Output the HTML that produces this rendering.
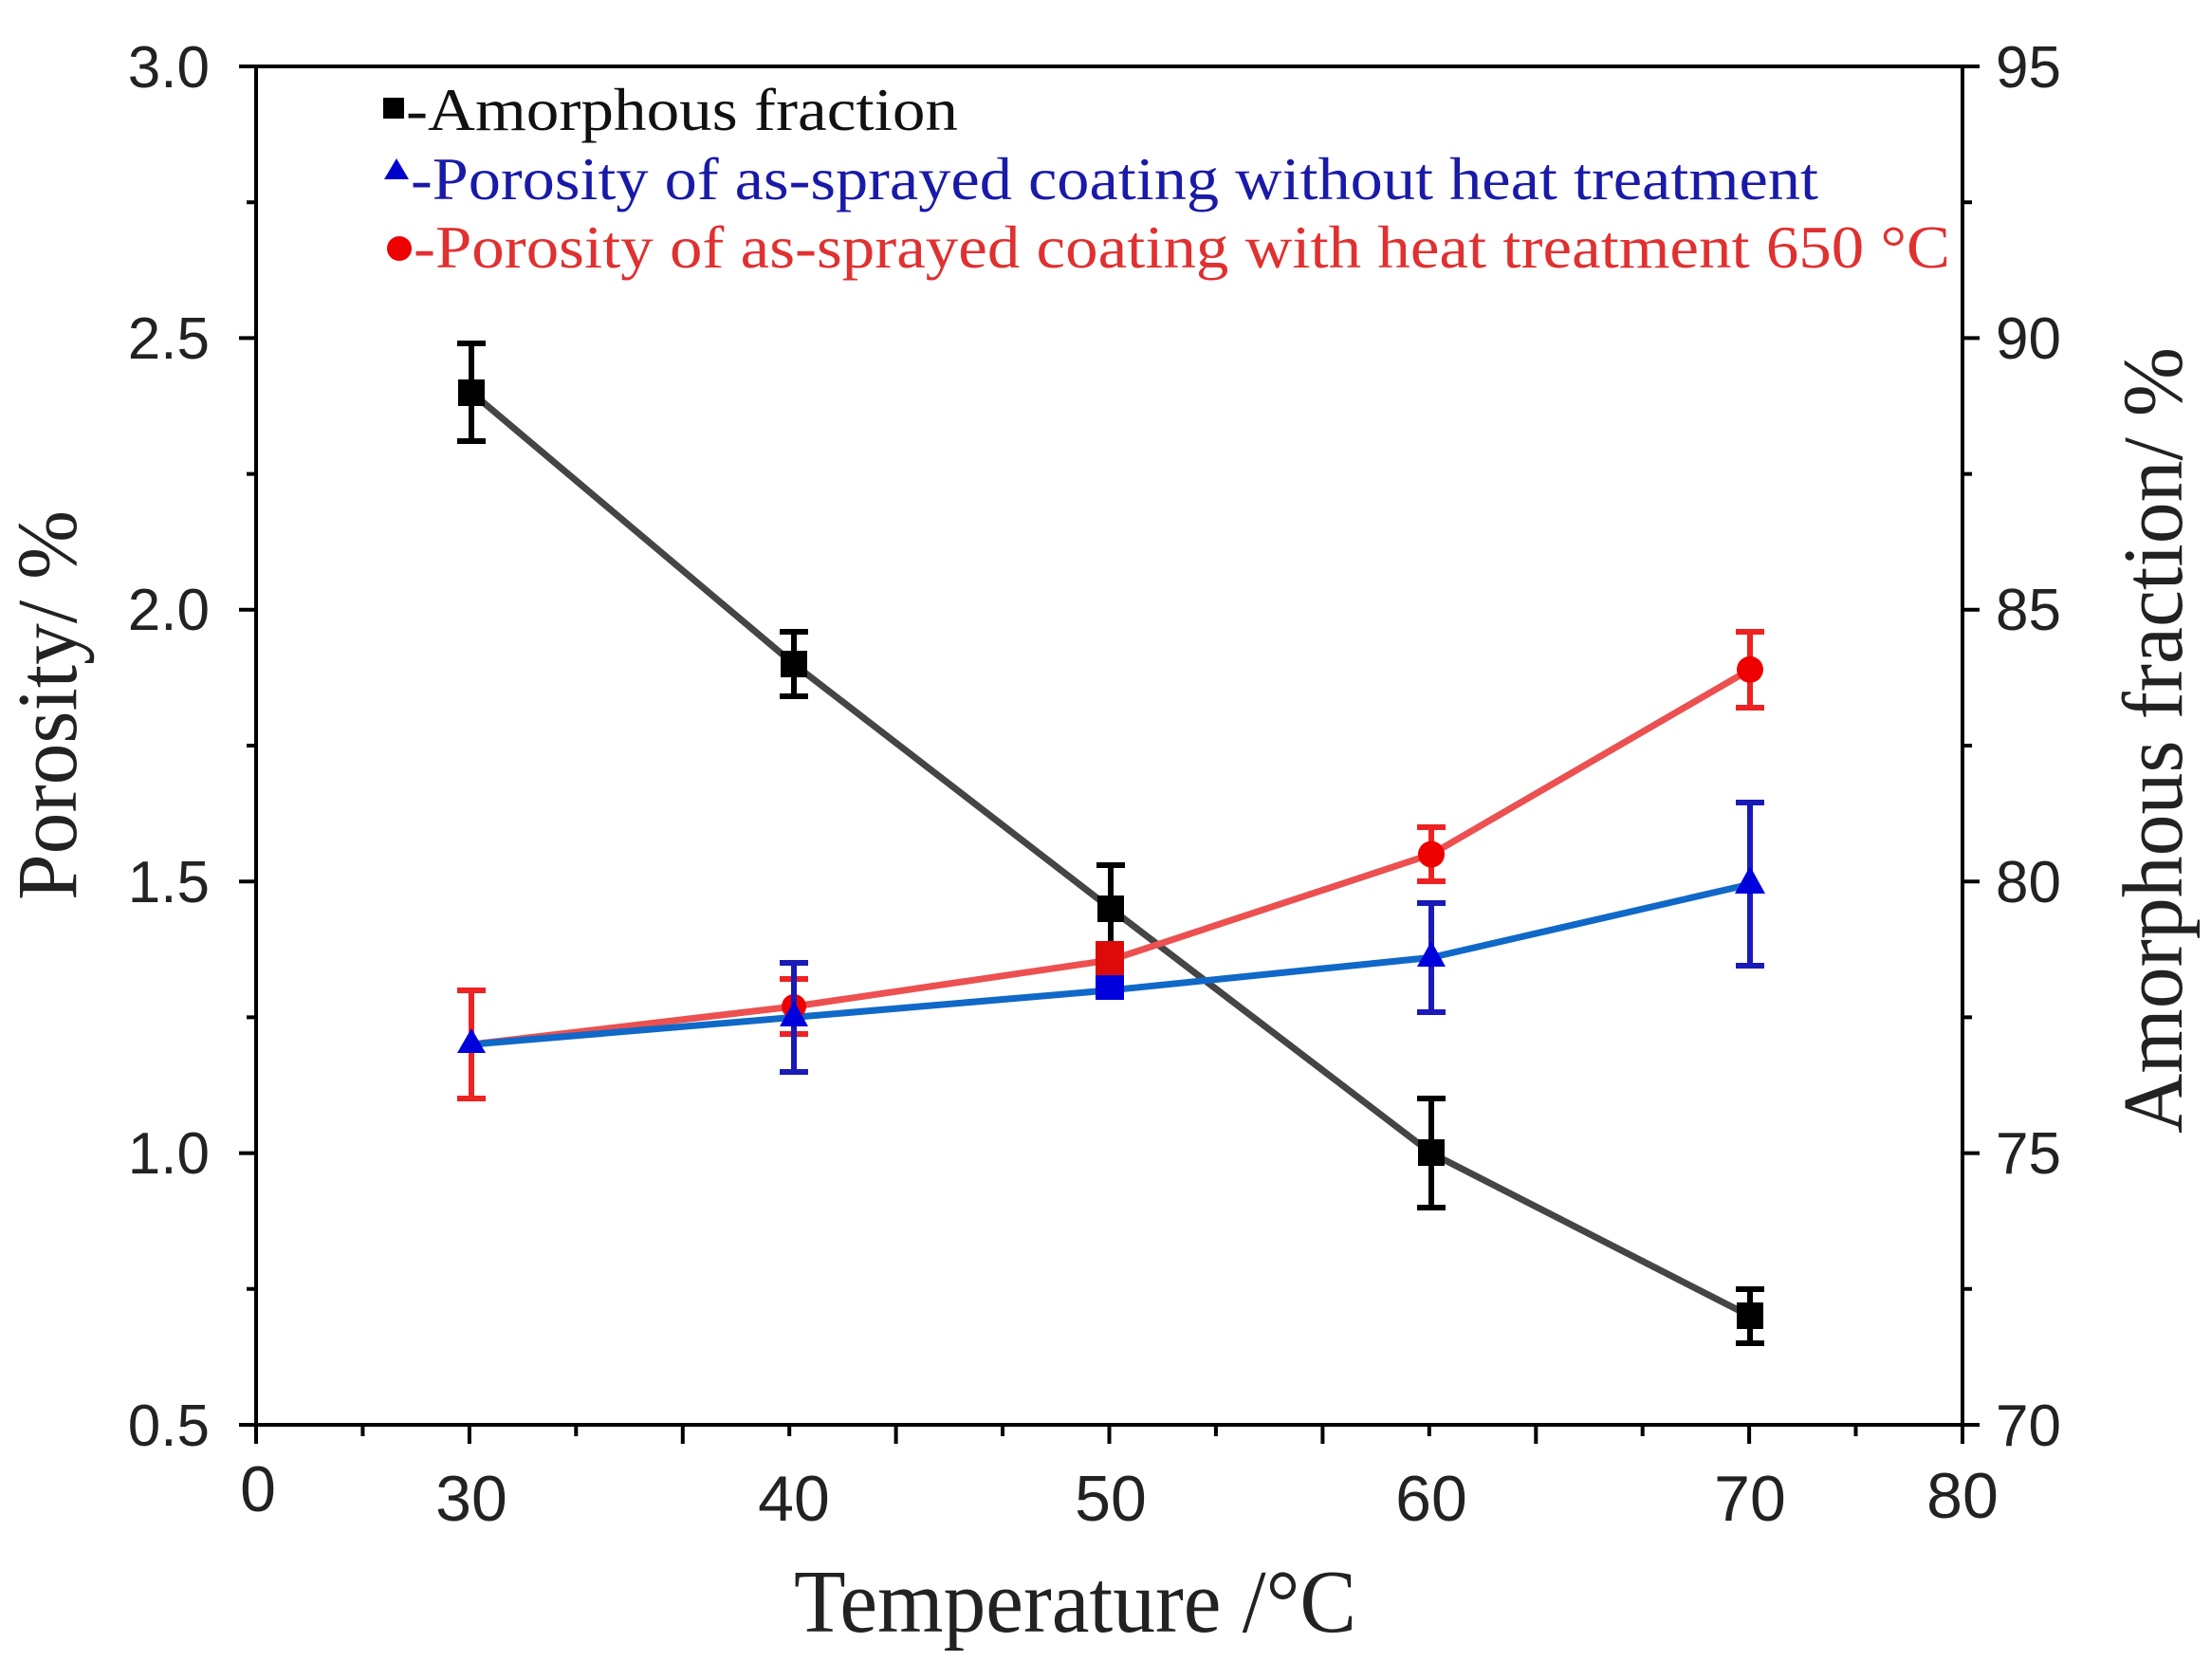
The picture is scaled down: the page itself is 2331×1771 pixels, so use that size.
<!DOCTYPE html>
<html><head><meta charset="utf-8"><style>html,body{margin:0;padding:0;background:#fff}svg{display:block}</style></head>
<body>
<svg width="2331" height="1771" viewBox="0 0 2331 1771" xmlns="http://www.w3.org/2000/svg">
<rect width="2331" height="1771" fill="#fff"/>
<g stroke="#000" stroke-width="4" fill="none">
<path d="M270 70H2069M270 70V1502H2069V70"/>
<path d="M252 70H270M252 356.4H270M252 642.8H270M252 929.2H270M252 1215.6H270M252 1502H270"/>
<path d="M260 213.2H270M260 499.6H270M260 786H270M260 1072.4H270M260 1358.8H270"/>
<path d="M2069 70H2087M2069 356.4H2087M2069 642.8H2087M2069 929.2H2087M2069 1215.6H2087M2069 1502H2087"/>
<path d="M2069 213.2H2079M2069 499.6H2079M2069 786H2079M2069 1072.4H2079M2069 1358.8H2079"/>
<path d="M270 1502V1522M494.9 1502V1522M719.8 1502V1522M944.6 1502V1522M1169.5 1502V1522M1394.4 1502V1522M1619.3 1502V1522M1844.1 1502V1522M2069 1502V1522"/>
<path d="M382.4 1502V1514M607.3 1502V1514M832.2 1502V1514M1057 1502V1514M1281.9 1502V1514M1506.8 1502V1514M1731.7 1502V1514M1956.5 1502V1514"/>
</g>
<g font-family="Liberation Sans, sans-serif" font-size="62" fill="#222">
<g text-anchor="end">
<text x="221" y="92">3.0</text><text x="221" y="378">2.5</text><text x="221" y="664">2.0</text><text x="221" y="951">1.5</text><text x="221" y="1237">1.0</text><text x="221" y="1524">0.5</text>
</g>
<text x="2104" y="92">95</text><text x="2104" y="378">90</text><text x="2104" y="664">85</text><text x="2104" y="951">80</text><text x="2104" y="1237">75</text><text x="2104" y="1524">70</text>
<g text-anchor="middle" font-size="68">
<text x="272" y="1593">0</text><text x="497" y="1603">30</text><text x="837" y="1603">40</text><text x="1171" y="1603">50</text><text x="1509" y="1603">60</text><text x="1845" y="1603">70</text><text x="2069" y="1600">80</text>
</g>
</g>
<g font-family="Liberation Serif, serif" fill="#222">
<text x="837" y="1720" font-size="94" textLength="593" lengthAdjust="spacingAndGlyphs">Temperature /°C</text>
<text transform="translate(80,949) rotate(-90)" font-size="90" textLength="411" lengthAdjust="spacingAndGlyphs">Porosity/ %</text>
<text transform="translate(2300,1195) rotate(-90)" font-size="90" textLength="829" lengthAdjust="spacingAndGlyphs">Amorphous fraction/ %</text>
</g>
<g font-family="Liberation Serif, serif" font-size="64">
<rect x="404" y="103" width="22" height="22" fill="#000"/>
<text x="428" y="137" fill="#111" textLength="582" lengthAdjust="spacingAndGlyphs">-Amorphous fraction</text>
<polygon points="418,167 405,189 431,189" fill="#0000cc"/>
<text x="433" y="210" fill="#1a1aa8" textLength="1484" lengthAdjust="spacingAndGlyphs">-Porosity of as-sprayed coating without heat treatment</text>
<circle cx="421" cy="262" r="13" fill="#ee0000"/>
<text x="436" y="282" fill="#e03030" textLength="1620" lengthAdjust="spacingAndGlyphs">-Porosity of as-sprayed coating with heat treatment 650  °C</text>
</g>
<polyline points="497,413.7 837,700.1 1171,957.8 1509,1215.6 1845,1387.4" fill="none" stroke="#454545" stroke-width="7"/>
<polyline points="497,1101 837,1061 1171,1012 1509,900.6 1845,705.8" fill="none" stroke="#ec5050" stroke-width="7"/>
<polyline points="497,1101 837,1072.4 1171,1043.8 1509,1009.4 1845,932.1" fill="none" stroke="#1068c8" stroke-width="7"/>
<g stroke="#ee2222" stroke-width="6" fill="none">
<path d="M497 1044V1158M482 1044H512M482 1158H512"/>
<path d="M837 1032V1090M822 1032H852M822 1090H852"/>
<path d="M1509 872V929M1494 872H1524M1494 929H1524"/>
<path d="M1845 666V746M1830 666H1860M1830 746H1860"/>
</g>
<g fill="#ee0000">
<circle cx="837" cy="1061" r="13"/><circle cx="1509" cy="900.6" r="14"/><circle cx="1845" cy="705.8" r="14"/>
<rect x="1155" y="992" width="30" height="36" fill="#dd0a0a"/>
</g>
<g stroke="#1a1ab8" stroke-width="6" fill="none">
<path d="M837 1015V1130M822 1015H852M822 1130H852"/>
<path d="M1509 952V1067M1494 952H1524M1494 1067H1524"/>
<path d="M1845 846V1018M1830 846H1860M1830 1018H1860"/>
</g>
<g fill="#0000dd">
<polygon points="497,1084 482,1110 512,1110"/>
<polygon points="837,1055 822,1082 852,1082"/>
<rect x="1155" y="1028" width="30" height="26"/>
<polygon points="1509,992 1494,1019 1524,1019"/>
<polygon points="1845,913 1829,942 1861,942"/>
</g>
<g stroke="#000" stroke-width="6" fill="none">
<path d="M497 362V465M482 362H512M482 465H512"/>
<path d="M837 666V734M822 666H852M822 734H852"/>
<path d="M1171 912V992M1156 912H1186"/>
<path d="M1509 1158V1273M1494 1158H1524M1494 1273H1524"/>
<path d="M1845 1359V1416M1830 1359H1860M1830 1416H1860"/>
</g>
<g fill="#000">
<rect x="483" y="400" width="28" height="28"/>
<rect x="823" y="686" width="28" height="28"/>
<rect x="1157" y="944" width="28" height="28"/>
<rect x="1495" y="1201" width="28" height="28"/>
<rect x="1831" y="1373" width="28" height="28"/>
</g>
</svg>
</body></html>
